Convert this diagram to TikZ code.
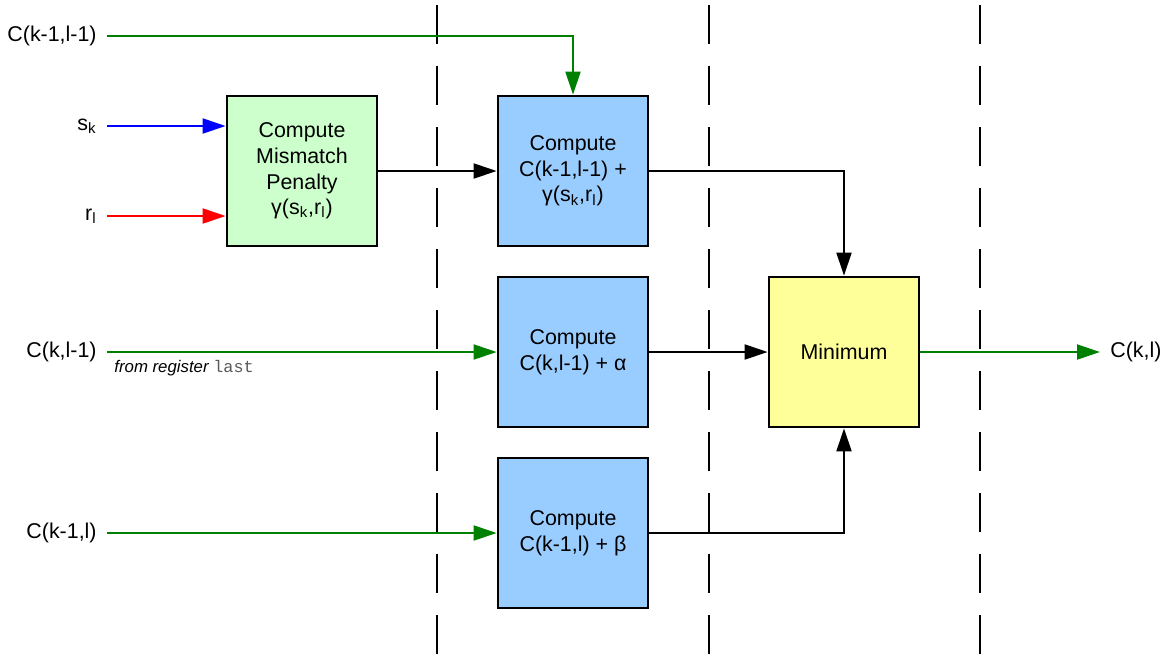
\documentclass[tikz,border=0pt]{standalone}
\usepackage{fontspec}
\setmainfont{Liberation Sans}
\setmonofont{Liberation Mono}
\usetikzlibrary{arrows.meta,positioning}
\definecolor{boxgreen}{HTML}{CCFFCC}
\definecolor{boxblue}{HTML}{99CCFF}
\definecolor{boxyellow}{HTML}{FFFF99}
\definecolor{wiregreen}{HTML}{008000}

\begin{document}
\begin{tikzpicture}[x=0.5pt, y=-0.5pt,
  >={Triangle[length=11.5pt, width=7.5pt]},
  font=\fontsize{10.7}{12.8}\selectfont,
  blk/.style={draw, line width=1.4pt, minimum width=75pt, minimum height=75pt,
              align=center, inner sep=0pt},
  sig/.style={anchor=east, inner sep=5pt},
  wire/.style={line width=1pt, ->},
  sep/.style={line width=1pt, dash pattern=on 19.5pt off 11pt}]
\useasboundingbox (0,0) rectangle (1169,661);
% pipeline stage borders
\foreach \xs in {437,709,980}
  \draw[sep] (\xs,5) -- (\xs,661);
% blocks
\node[blk, fill=boxgreen] (pen) at (302,171) {Compute\\Mismatch\\Penalty\\γ(s\textsubscript{k},r\textsubscript{l})};
\node[blk, fill=boxblue] (diag) at (573,171) {Compute\\C(k-1,l-1) +\\γ(s\textsubscript{k},r\textsubscript{l})};
\node[blk, fill=boxblue] (left) at (573,352) {Compute\\C(k,l-1) + α};
\node[blk, fill=boxblue] (up) at (573,533) {Compute\\C(k-1,l) + β};
\node[blk, fill=boxyellow] (min) at (844,352) {Minimum};
% inputs and output
\node[sig] (cdiag) at (107,36) {C(k-1,l-1)};
\node[sig] (sk) at (107,126) {s\textsubscript{k}};
\node[sig] (rl) at (107,216) {r\textsubscript{l}};
\node[sig] (cleft) at (107,352) {C(k,l-1)};
\node[sig] (cup) at (107,533) {C(k-1,l)};
\node[anchor=west, inner sep=5pt] (ckl) at (1100,352) {C(k,l)};
\node[anchor=north west, inner sep=0pt, font=\fontsize{8.4}{10}\selectfont] (reg) at (114,360)
  {\itshape from register \upshape\color{black!65}\ttfamily last};
% connections
\draw[wire, wiregreen] (cdiag.east) -| (diag.north);
\draw[wire, blue] (sk.east) -- (sk.east -| pen.west);
\draw[wire, red] (rl.east) -- (rl.east -| pen.west);
\draw[wire] (pen.east) -- (diag.west);
\draw[wire, wiregreen] (cleft.east) -- (left.west);
\draw[wire, wiregreen] (cup.east) -- (up.west);
\draw[wire] (diag.east) -| (min.north);
\draw[wire] (left.east) -- (min.west);
\draw[wire] (up.east) -| (min.south);
\draw[wire, wiregreen] (min.east) -- (ckl.west);
\end{tikzpicture}
\end{document}
